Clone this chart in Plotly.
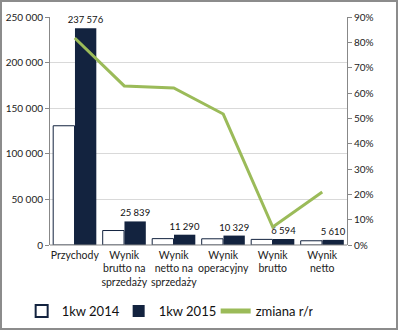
import plotly.graph_objects as go

categories = ["Przychody", "Wynik<br>brutto na<br>sprzedaży", "Wynik<br>netto na<br>sprzedaży",
              "Wynik<br>operacyjny", "Wynik<br>brutto", "Wynik<br>netto"]
q1_2014 = [130750, 15870, 6970, 6810, 6160, 4640]
q1_2015 = [237576, 25839, 11290, 10329, 6594, 5610]
change_yoy = [0.817, 0.628, 0.620, 0.517, 0.071, 0.209]

left_ticks = [0, 50000, 100000, 150000, 200000, 250000]
right_ticks = [i / 10 for i in range(10)]

navy = "#13233F"
green = "#9BBB59"
font_family = "Lato, 'Open Sans', sans-serif"

fig = go.Figure()
fig.add_trace(go.Bar(x=categories, y=q1_2014, name="1kw 2014",
                     marker=dict(color="white", line=dict(color=navy, width=1))))
fig.add_trace(go.Bar(x=categories, y=q1_2015, name="1kw 2015",
                     marker=dict(color=navy, line=dict(color=navy, width=0)),
                     text=q1_2015, texttemplate="%{y:,.0f}", textposition="outside",
                     constraintext="none",
                     textfont=dict(size=9.5, color="#111"), cliponaxis=False))
fig.add_trace(go.Scatter(x=categories, y=change_yoy, name="zmiana r/r", yaxis="y2",
                         mode="lines", line=dict(color=green, width=3)))

W, H = 398, 330
l, r, t, b = 50, 51, 17, 85
pw, ph = W - l - r, H - t - b

fig.update_layout(
    width=W, height=H,
    margin=dict(l=l, r=r, t=t, b=b, autoexpand=False),
    paper_bgcolor="white", plot_bgcolor="white",
    separators=", ",
    font=dict(family=font_family, size=10, color="#222"),
    barmode="group", bargap=0.12, bargroupgap=0.02,
    showlegend=True,
    legend=dict(orientation="h", xref="container", x=0.42, xanchor="center",
                yref="container", y=(H - 296) / H, yanchor="top",
                font=dict(size=13, color="#111"),
                itemwidth=30, traceorder="normal", entrywidth=52,
                tracegroupgap=0, itemsizing="constant"),
    xaxis=dict(showline=False, ticks="", tickfont=dict(size=10.5, color="#222"),
               tickangle=0, ticklabelstandoff=2),
    yaxis=dict(range=[0, 250000], tickvals=left_ticks, tickformat=",.0f",
               showgrid=True, gridcolor="#D9D9D9", gridwidth=1,
               showline=True, linecolor="#888", linewidth=1,
               ticks="outside", ticklen=4, tickcolor="#888",
               tickfont=dict(size=10, color="#222"), zeroline=False),
    yaxis2=dict(range=[0, 0.9], tickvals=right_ticks, tickformat=".0%",
                overlaying="y", side="right", showgrid=False,
                showline=True, linecolor="#888", linewidth=1,
                ticks="outside", ticklen=4, tickcolor="#888",
                tickfont=dict(size=10, color="#222"), zeroline=False),
    shapes=[
        dict(type="line", xref="paper", yref="paper", x0=0, x1=1, y0=0, y1=0,
             line=dict(color="#888", width=1)),
        dict(type="rect", xref="paper", yref="paper",
             x0=(1 - l) / pw, x1=(W - 1 - l) / pw,
             y0=(t + ph - (H - 1)) / ph, y1=(t + ph - 1) / ph,
             line=dict(color="#8C8C8C", width=2), fillcolor="rgba(0,0,0,0)"),
    ],
)

fig.write_html("out.html")
